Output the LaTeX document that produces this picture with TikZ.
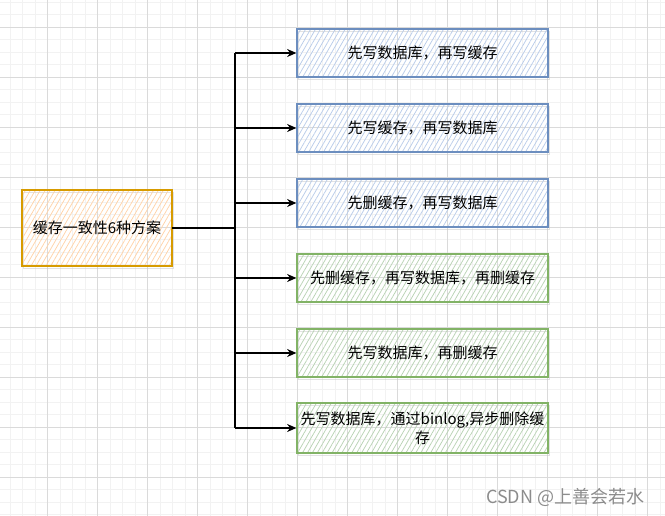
\documentclass[tikz,border=0pt]{standalone}
\usepackage{fontspec}
\setmainfont{Noto Sans CJK SC}
\usetikzlibrary{arrows.meta,patterns.meta,shadows}
\definecolor{blueline}{HTML}{6C8EBF}
\definecolor{bluehatch}{HTML}{B9CCEA}
\definecolor{greenline}{HTML}{82B366}
\definecolor{greenhatch}{HTML}{B9D3B4}
\definecolor{orangeline}{HTML}{D79B00}
\definecolor{orangehatch}{HTML}{FFD3A8}
\definecolor{gridminor}{HTML}{F2F2F2}
\definecolor{gridmajor}{HTML}{DADADA}

\begin{document}
\begin{tikzpicture}[x=0.75pt,y=-0.75pt,
	every node/.style={font=\fontsize{11.25}{14}\selectfont},
	plan/.style={draw, line width=0.9pt, minimum width=188.25pt, minimum height=36pt, inner sep=0pt,
		drop shadow={fill=none, draw=black!22, line width=0.6pt, shadow xshift=1pt, shadow yshift=-1.5pt}},
	blueplan/.style={plan, draw=blueline, pattern={Lines[angle=60,distance=3.2pt,line width=0.55pt]}, pattern color=bluehatch},
	greenplan/.style={plan, draw=greenline, pattern={Lines[angle=60,distance=3.2pt,line width=0.55pt]}, pattern color=greenhatch},
	link/.style={line width=0.9pt, -{Stealth[length=7pt,width=6pt]}}]
	%%%%% BACKGROUND %%%%%
	\useasboundingbox (0,0) rectangle (665,516);
	\fill[white] (0,0) rectangle (665,516);
	\foreach \gx in {10,22.5,...,660} \draw[gridminor, line width=0.5pt] (\gx,0) -- (\gx,516);
	\foreach \gy in {2,14.5,...,515} \draw[gridminor, line width=0.5pt] (0,\gy) -- (665,\gy);
	\foreach \gx in {47.5,97.5,...,660} \draw[gridmajor, line width=0.5pt] (\gx,0) -- (\gx,516);
	\foreach \gy in {27,77,...,515} \draw[gridmajor, line width=0.5pt] (0,\gy) -- (665,\gy);
	
	%%%%% NODES %%%%%
	\node[plan, draw=orangeline, minimum width=112.5pt, minimum height=57pt,
		pattern={Lines[angle=60,distance=3.2pt,line width=0.55pt]}, pattern color=orangehatch] (root) at (97,228) {缓存一致性6种方案};
	
	\node[blueplan] (s1) at (422.5,53) {先写数据库，再写缓存};
	\node[blueplan] (s2) at (422.5,128) {先写缓存，再写数据库};
	\node[blueplan] (s3) at (422.5,203) {先删缓存，再写数据库};
	\node[greenplan] (s4) at (422.5,278) {先删缓存，再写数据库，再删缓存};
	\node[greenplan] (s5) at (422.5,353) {先写数据库，再删缓存};
	\node[greenplan, align=center, minimum height=37.5pt] (s6) at (422.5,428) {先写数据库，通过binlog,异步删除缓\\存};
	
	%%%%% CONNECTORS %%%%%
	\coordinate (trunk) at (235,228);
	\draw[line width=0.9pt] (root.east) -- (trunk);
	\draw[line width=0.9pt] (trunk |- s1.west) -- (trunk |- s6.west);
	\draw[link] (trunk |- s1.west) -- (s1.west);
	\draw[link] (trunk |- s2.west) -- (s2.west);
	\draw[link] (trunk |- s3.west) -- (s3.west);
	\draw[link] (trunk |- s4.west) -- (s4.west);
	\draw[link] (trunk |- s5.west) -- (s5.west);
	\draw[link] (trunk |- s6.west) -- (s6.west);
	
	%%%%% WATERMARK %%%%%
	\node[text=black!45, font=\fontsize{13.5}{16}\selectfont, anchor=east] (mark) at (649,497) {CSDN @上善会若水};
\end{tikzpicture}
\end{document}
